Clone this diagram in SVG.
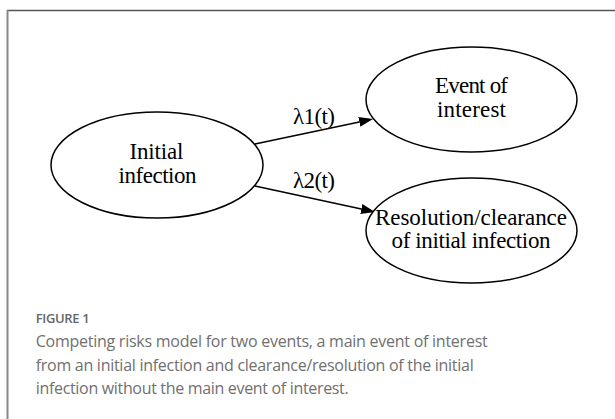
<svg xmlns="http://www.w3.org/2000/svg" width="615" height="419" viewBox="0 0 615 419">
<style>
.node{fill:#fff;stroke:#000;stroke-width:1.5}
.lbl{font-family:"Liberation Serif","Times New Roman",serif;font-size:23px;fill:#000;text-anchor:middle}
.edge{stroke:#000;stroke-width:1.5;fill:none}
.cap{font-family:"Open Sans","Liberation Sans",sans-serif;font-size:16px;fill:#707070}
.fig{font-family:"Open Sans","Liberation Sans",sans-serif;font-size:13px;font-weight:600;fill:#666}
</style>
<defs>
<marker id="arrow" markerUnits="userSpaceOnUse" markerWidth="14" markerHeight="10" refX="0" refY="5" orient="auto">
<path d="M0,0 L14,5 L0,10 z" fill="#000"/>
</marker>
</defs>
<rect width="615" height="419" fill="#fff"/>
<g id="frame">
<line x1="7" y1="10.5" x2="615" y2="10.5" stroke="#555" stroke-width="1.5"/>
<line x1="7.5" y1="10" x2="7.5" y2="419" stroke="#888" stroke-width="2"/>
</g>
<g id="connectors">
<line class="edge" x1="255" y1="144" x2="359.3" y2="121.9" marker-end="url(#arrow)"/>
<text class="lbl" x="314" y="124" textLength="42">λ1(t)</text>
<line class="edge" x1="255" y1="186" x2="361.3" y2="209" marker-end="url(#arrow)"/>
<text class="lbl" x="314" y="188" textLength="42">λ2(t)</text>
</g>
<g id="initial">
<ellipse class="node" cx="157" cy="165" rx="106" ry="53"/>
<text class="lbl" x="156.5" y="159" textLength="54">Initial</text>
<text class="lbl" x="157.5" y="183" textLength="78">infection</text>
</g>
<g id="event">
<ellipse class="node" cx="471.5" cy="99.5" rx="105.5" ry="52.5"/>
<text class="lbl" x="471.5" y="93" textLength="73">Event of</text>
<text class="lbl" x="471.5" y="117" textLength="69">interest</text>
</g>
<g id="resolution">
<ellipse class="node" cx="471.5" cy="230.5" rx="105.5" ry="52.5"/>
<text class="lbl" x="471" y="225" textLength="192">Resolution/clearance</text>
<text class="lbl" x="471" y="248" textLength="159">of initial infection</text>
</g>
<g id="caption">
<text class="fig" x="35.7" y="323" textLength="54">FIGURE 1</text>
<text class="cap" x="35.7" y="347" textLength="452">Competing risks model for two events, a main event of interest</text>
<text class="cap" x="35.7" y="371" textLength="438">from an initial infection and clearance/resolution of the initial</text>
<text class="cap" x="35.7" y="394" textLength="313">infection without the main event of interest.</text>
</g>
</svg>
